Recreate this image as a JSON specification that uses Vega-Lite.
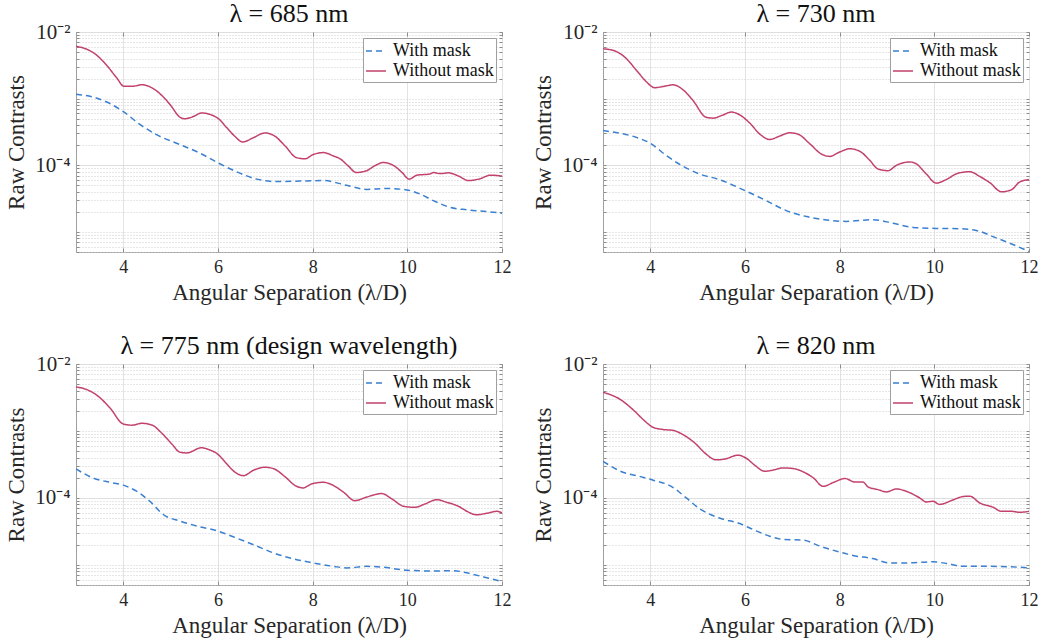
{
  "$schema": "https://vega.github.io/schema/vega-lite/v6.json",
  "padding": {"left": 5, "top": 0, "right": 5, "bottom": 5},
  "background": "white",
  "datasets": {
    "d": [
      {"p":"685","s":"Without mask","x":3.0,"c":6.09e-3},{"p":"685","s":"Without mask","x":3.23,"c":5.5e-3},{"p":"685","s":"Without mask","x":3.44,"c":4.47e-3},{"p":"685","s":"Without mask","x":3.65,"c":3.15e-3},{"p":"685","s":"Without mask","x":3.86,"c":2.05e-3},{"p":"685","s":"Without mask","x":4.01,"c":1.54e-3},{"p":"685","s":"Without mask","x":4.21,"c":1.54e-3},{"p":"685","s":"Without mask","x":4.39,"c":1.62e-3},{"p":"685","s":"Without mask","x":4.6,"c":1.46e-3},{"p":"685","s":"Without mask","x":4.85,"c":1.05e-3},{"p":"685","s":"Without mask","x":4.99,"c":8.1e-4},{"p":"685","s":"Without mask","x":5.2,"c":5.25e-4},{"p":"685","s":"Without mask","x":5.3,"c":5.0e-4},{"p":"685","s":"Without mask","x":5.48,"c":5.4e-4},{"p":"685","s":"Without mask","x":5.65,"c":6.1e-4},{"p":"685","s":"Without mask","x":5.83,"c":5.8e-4},{"p":"685","s":"Without mask","x":6.01,"c":5.0e-4},{"p":"685","s":"Without mask","x":6.18,"c":3.7e-4},{"p":"685","s":"Without mask","x":6.36,"c":2.7e-4},{"p":"685","s":"Without mask","x":6.52,"c":2.24e-4},{"p":"685","s":"Without mask","x":6.75,"c":2.6e-4},{"p":"685","s":"Without mask","x":6.99,"c":3.06e-4},{"p":"685","s":"Without mask","x":7.2,"c":2.74e-4},{"p":"685","s":"Without mask","x":7.42,"c":1.94e-4},{"p":"685","s":"Without mask","x":7.66,"c":1.3e-4},{"p":"685","s":"Without mask","x":7.84,"c":1.25e-4},{"p":"685","s":"Without mask","x":8.01,"c":1.45e-4},{"p":"685","s":"Without mask","x":8.23,"c":1.55e-4},{"p":"685","s":"Without mask","x":8.44,"c":1.38e-4},{"p":"685","s":"Without mask","x":8.58,"c":1.25e-4},{"p":"685","s":"Without mask","x":8.75,"c":9.8e-5},{"p":"685","s":"Without mask","x":8.92,"c":7.8e-5},{"p":"685","s":"Without mask","x":9.14,"c":8.3e-5},{"p":"685","s":"Without mask","x":9.32,"c":9.9e-5},{"p":"685","s":"Without mask","x":9.49,"c":1.1e-4},{"p":"685","s":"Without mask","x":9.74,"c":9.6e-5},{"p":"685","s":"Without mask","x":9.88,"c":7.9e-5},{"p":"685","s":"Without mask","x":10.04,"c":6.2e-5},{"p":"685","s":"Without mask","x":10.2,"c":7.1e-5},{"p":"685","s":"Without mask","x":10.48,"c":7.4e-5},{"p":"685","s":"Without mask","x":10.55,"c":7.8e-5},{"p":"685","s":"Without mask","x":10.69,"c":7.5e-5},{"p":"685","s":"Without mask","x":10.87,"c":7.7e-5},{"p":"685","s":"Without mask","x":11.08,"c":6.9e-5},{"p":"685","s":"Without mask","x":11.29,"c":5.9e-5},{"p":"685","s":"Without mask","x":11.54,"c":6.3e-5},{"p":"685","s":"Without mask","x":11.75,"c":7.1e-5},{"p":"685","s":"Without mask","x":12.0,"c":6.9e-5},
      {"p":"685","s":"With mask","x":3.0,"c":1.16e-3},{"p":"685","s":"With mask","x":3.37,"c":1.05e-3},{"p":"685","s":"With mask","x":3.65,"c":8.9e-4},{"p":"685","s":"With mask","x":4.0,"c":6.4e-4},{"p":"685","s":"With mask","x":4.35,"c":4.1e-4},{"p":"685","s":"With mask","x":4.7,"c":2.88e-4},{"p":"685","s":"With mask","x":5.2,"c":2.04e-4},{"p":"685","s":"With mask","x":5.62,"c":1.52e-4},{"p":"685","s":"With mask","x":6.01,"c":1.08e-4},{"p":"685","s":"With mask","x":6.39,"c":8.0e-5},{"p":"685","s":"With mask","x":6.82,"c":6.2e-5},{"p":"685","s":"With mask","x":7.24,"c":5.7e-5},{"p":"685","s":"With mask","x":7.73,"c":5.8e-5},{"p":"685","s":"With mask","x":8.23,"c":5.9e-5},{"p":"685","s":"With mask","x":8.72,"c":5.0e-5},{"p":"685","s":"With mask","x":9.14,"c":4.35e-5},{"p":"685","s":"With mask","x":9.56,"c":4.5e-5},{"p":"685","s":"With mask","x":9.99,"c":4.26e-5},{"p":"685","s":"With mask","x":10.27,"c":3.7e-5},{"p":"685","s":"With mask","x":10.55,"c":2.95e-5},{"p":"685","s":"With mask","x":10.9,"c":2.34e-5},{"p":"685","s":"With mask","x":11.25,"c":2.15e-5},{"p":"685","s":"With mask","x":11.61,"c":2.04e-5},{"p":"685","s":"With mask","x":12.0,"c":1.91e-5},
      {"p":"730","s":"Without mask","x":3.0,"c":5.6e-3},{"p":"730","s":"Without mask","x":3.25,"c":5.2e-3},{"p":"730","s":"Without mask","x":3.46,"c":4.2e-3},{"p":"730","s":"Without mask","x":3.7,"c":2.7e-3},{"p":"730","s":"Without mask","x":3.92,"c":1.78e-3},{"p":"730","s":"Without mask","x":4.09,"c":1.46e-3},{"p":"730","s":"Without mask","x":4.27,"c":1.52e-3},{"p":"730","s":"Without mask","x":4.48,"c":1.61e-3},{"p":"730","s":"Without mask","x":4.69,"c":1.36e-3},{"p":"730","s":"Without mask","x":4.9,"c":9.4e-4},{"p":"730","s":"Without mask","x":5.18,"c":5.25e-4},{"p":"730","s":"Without mask","x":5.32,"c":5.1e-4},{"p":"730","s":"Without mask","x":5.54,"c":5.7e-4},{"p":"730","s":"Without mask","x":5.71,"c":6.3e-4},{"p":"730","s":"Without mask","x":5.89,"c":5.7e-4},{"p":"730","s":"Without mask","x":6.1,"c":4.3e-4},{"p":"730","s":"Without mask","x":6.31,"c":2.95e-4},{"p":"730","s":"Without mask","x":6.52,"c":2.44e-4},{"p":"730","s":"Without mask","x":6.73,"c":2.74e-4},{"p":"730","s":"Without mask","x":6.94,"c":3.07e-4},{"p":"730","s":"Without mask","x":7.12,"c":2.93e-4},{"p":"730","s":"Without mask","x":7.37,"c":2.1e-4},{"p":"730","s":"Without mask","x":7.61,"c":1.48e-4},{"p":"730","s":"Without mask","x":7.79,"c":1.36e-4},{"p":"730","s":"Without mask","x":8.0,"c":1.58e-4},{"p":"730","s":"Without mask","x":8.21,"c":1.77e-4},{"p":"730","s":"Without mask","x":8.42,"c":1.63e-4},{"p":"730","s":"Without mask","x":8.63,"c":1.2e-4},{"p":"730","s":"Without mask","x":8.81,"c":8.8e-5},{"p":"730","s":"Without mask","x":9.02,"c":8.3e-5},{"p":"730","s":"Without mask","x":9.2,"c":1.0e-4},{"p":"730","s":"Without mask","x":9.48,"c":1.12e-4},{"p":"730","s":"Without mask","x":9.62,"c":1.05e-4},{"p":"730","s":"Without mask","x":9.83,"c":7.4e-5},{"p":"730","s":"Without mask","x":10.04,"c":5.4e-5},{"p":"730","s":"Without mask","x":10.25,"c":6.1e-5},{"p":"730","s":"Without mask","x":10.5,"c":7.6e-5},{"p":"730","s":"Without mask","x":10.75,"c":8.0e-5},{"p":"730","s":"Without mask","x":10.96,"c":6.8e-5},{"p":"730","s":"Without mask","x":11.17,"c":5.5e-5},{"p":"730","s":"Without mask","x":11.42,"c":4.0e-5},{"p":"730","s":"Without mask","x":11.63,"c":4.3e-5},{"p":"730","s":"Without mask","x":11.8,"c":5.6e-5},{"p":"730","s":"Without mask","x":12.0,"c":6.1e-5},
      {"p":"730","s":"With mask","x":3.0,"c":3.32e-4},{"p":"730","s":"With mask","x":3.35,"c":3.03e-4},{"p":"730","s":"With mask","x":3.7,"c":2.63e-4},{"p":"730","s":"With mask","x":4.0,"c":2.14e-4},{"p":"730","s":"With mask","x":4.34,"c":1.4e-4},{"p":"730","s":"With mask","x":4.69,"c":9.7e-5},{"p":"730","s":"With mask","x":5.04,"c":7.4e-5},{"p":"730","s":"With mask","x":5.46,"c":6.1e-5},{"p":"730","s":"With mask","x":6.0,"c":4.17e-5},{"p":"730","s":"With mask","x":6.45,"c":2.95e-5},{"p":"730","s":"With mask","x":6.87,"c":2.09e-5},{"p":"730","s":"With mask","x":7.3,"c":1.7e-5},{"p":"730","s":"With mask","x":7.72,"c":1.51e-5},{"p":"730","s":"With mask","x":8.14,"c":1.44e-5},{"p":"730","s":"With mask","x":8.7,"c":1.53e-5},{"p":"730","s":"With mask","x":9.13,"c":1.35e-5},{"p":"730","s":"With mask","x":9.55,"c":1.17e-5},{"p":"730","s":"With mask","x":10.04,"c":1.13e-5},{"p":"730","s":"With mask","x":10.54,"c":1.12e-5},{"p":"730","s":"With mask","x":10.96,"c":1.02e-5},{"p":"730","s":"With mask","x":11.24,"c":8.5e-6},{"p":"730","s":"With mask","x":11.59,"c":6.8e-6},{"p":"730","s":"With mask","x":12.0,"c":5.1e-6},
      {"p":"775","s":"Without mask","x":3.0,"c":4.54e-3},{"p":"775","s":"Without mask","x":3.23,"c":4.14e-3},{"p":"775","s":"Without mask","x":3.47,"c":3.29e-3},{"p":"775","s":"Without mask","x":3.72,"c":2.2e-3},{"p":"775","s":"Without mask","x":4.0,"c":1.27e-3},{"p":"775","s":"Without mask","x":4.18,"c":1.22e-3},{"p":"775","s":"Without mask","x":4.39,"c":1.3e-3},{"p":"775","s":"Without mask","x":4.6,"c":1.23e-3},{"p":"775","s":"Without mask","x":4.81,"c":9.3e-4},{"p":"775","s":"Without mask","x":5.02,"c":6.45e-4},{"p":"775","s":"Without mask","x":5.2,"c":4.8e-4},{"p":"775","s":"Without mask","x":5.34,"c":4.7e-4},{"p":"775","s":"Without mask","x":5.65,"c":5.6e-4},{"p":"775","s":"Without mask","x":5.83,"c":5.2e-4},{"p":"775","s":"Without mask","x":6.01,"c":4.4e-4},{"p":"775","s":"Without mask","x":6.18,"c":3.25e-4},{"p":"775","s":"Without mask","x":6.36,"c":2.42e-4},{"p":"775","s":"Without mask","x":6.54,"c":2.15e-4},{"p":"775","s":"Without mask","x":6.75,"c":2.59e-4},{"p":"775","s":"Without mask","x":6.99,"c":2.87e-4},{"p":"775","s":"Without mask","x":7.17,"c":2.74e-4},{"p":"775","s":"Without mask","x":7.42,"c":2.06e-4},{"p":"775","s":"Without mask","x":7.63,"c":1.53e-4},{"p":"775","s":"Without mask","x":7.8,"c":1.41e-4},{"p":"775","s":"Without mask","x":7.98,"c":1.62e-4},{"p":"775","s":"Without mask","x":8.23,"c":1.71e-4},{"p":"775","s":"Without mask","x":8.44,"c":1.53e-4},{"p":"775","s":"Without mask","x":8.65,"c":1.22e-4},{"p":"775","s":"Without mask","x":8.89,"c":9.1e-5},{"p":"775","s":"Without mask","x":9.14,"c":1.03e-4},{"p":"775","s":"Without mask","x":9.46,"c":1.16e-4},{"p":"775","s":"Without mask","x":9.67,"c":9.7e-5},{"p":"775","s":"Without mask","x":9.92,"c":7.5e-5},{"p":"775","s":"Without mask","x":10.16,"c":7.25e-5},{"p":"775","s":"Without mask","x":10.37,"c":8.1e-5},{"p":"775","s":"Without mask","x":10.62,"c":9.4e-5},{"p":"775","s":"Without mask","x":10.83,"c":8.6e-5},{"p":"775","s":"Without mask","x":11.08,"c":7.5e-5},{"p":"775","s":"Without mask","x":11.26,"c":6.3e-5},{"p":"775","s":"Without mask","x":11.46,"c":5.6e-5},{"p":"775","s":"Without mask","x":11.68,"c":5.9e-5},{"p":"775","s":"Without mask","x":11.89,"c":6.3e-5},{"p":"775","s":"Without mask","x":12.0,"c":6.0e-5},
      {"p":"775","s":"With mask","x":3.0,"c":2.71e-4},{"p":"775","s":"With mask","x":3.37,"c":1.97e-4},{"p":"775","s":"With mask","x":3.72,"c":1.71e-4},{"p":"775","s":"With mask","x":4.0,"c":1.55e-4},{"p":"775","s":"With mask","x":4.28,"c":1.26e-4},{"p":"775","s":"With mask","x":4.56,"c":8.9e-5},{"p":"775","s":"With mask","x":4.85,"c":5.6e-5},{"p":"775","s":"With mask","x":5.2,"c":4.5e-5},{"p":"775","s":"With mask","x":5.62,"c":3.7e-5},{"p":"775","s":"With mask","x":6.01,"c":3.18e-5},{"p":"775","s":"With mask","x":6.32,"c":2.63e-5},{"p":"775","s":"With mask","x":6.75,"c":2.0e-5},{"p":"775","s":"With mask","x":7.17,"c":1.51e-5},{"p":"775","s":"With mask","x":7.59,"c":1.23e-5},{"p":"775","s":"With mask","x":8.01,"c":1.07e-5},{"p":"775","s":"With mask","x":8.44,"c":9.5e-6},{"p":"775","s":"With mask","x":8.72,"c":9.0e-6},{"p":"775","s":"With mask","x":9.14,"c":9.5e-6},{"p":"775","s":"With mask","x":9.49,"c":9.2e-6},{"p":"775","s":"With mask","x":9.99,"c":8.3e-6},{"p":"775","s":"With mask","x":10.55,"c":8.1e-6},{"p":"775","s":"With mask","x":10.97,"c":8.2e-6},{"p":"775","s":"With mask","x":11.25,"c":7.6e-6},{"p":"775","s":"With mask","x":11.61,"c":6.6e-6},{"p":"775","s":"With mask","x":12.0,"c":5.6e-6},
      {"p":"820","s":"Without mask","x":3.0,"c":3.78e-3},{"p":"820","s":"Without mask","x":3.35,"c":3.0e-3},{"p":"820","s":"Without mask","x":3.67,"c":1.97e-3},{"p":"820","s":"Without mask","x":3.85,"c":1.48e-3},{"p":"820","s":"Without mask","x":4.06,"c":1.13e-3},{"p":"820","s":"Without mask","x":4.27,"c":1.05e-3},{"p":"820","s":"Without mask","x":4.48,"c":1.02e-3},{"p":"820","s":"Without mask","x":4.69,"c":8.8e-4},{"p":"820","s":"Without mask","x":4.94,"c":6.6e-4},{"p":"820","s":"Without mask","x":5.15,"c":4.7e-4},{"p":"820","s":"Without mask","x":5.39,"c":3.7e-4},{"p":"820","s":"Without mask","x":5.57,"c":3.8e-4},{"p":"820","s":"Without mask","x":5.85,"c":4.34e-4},{"p":"820","s":"Without mask","x":6.03,"c":3.9e-4},{"p":"820","s":"Without mask","x":6.2,"c":3.1e-4},{"p":"820","s":"Without mask","x":6.42,"c":2.5e-4},{"p":"820","s":"Without mask","x":6.59,"c":2.6e-4},{"p":"820","s":"Without mask","x":6.8,"c":2.8e-4},{"p":"820","s":"Without mask","x":7.01,"c":2.75e-4},{"p":"820","s":"Without mask","x":7.23,"c":2.45e-4},{"p":"820","s":"Without mask","x":7.44,"c":2.0e-4},{"p":"820","s":"Without mask","x":7.65,"c":1.49e-4},{"p":"820","s":"Without mask","x":7.89,"c":1.73e-4},{"p":"820","s":"Without mask","x":8.11,"c":1.95e-4},{"p":"820","s":"Without mask","x":8.32,"c":1.73e-4},{"p":"820","s":"Without mask","x":8.49,"c":1.73e-4},{"p":"820","s":"Without mask","x":8.6,"c":1.46e-4},{"p":"820","s":"Without mask","x":8.81,"c":1.33e-4},{"p":"820","s":"Without mask","x":8.99,"c":1.23e-4},{"p":"820","s":"Without mask","x":9.2,"c":1.36e-4},{"p":"820","s":"Without mask","x":9.44,"c":1.23e-4},{"p":"820","s":"Without mask","x":9.69,"c":1.0e-4},{"p":"820","s":"Without mask","x":9.83,"c":8.7e-5},{"p":"820","s":"Without mask","x":9.97,"c":8.9e-5},{"p":"820","s":"Without mask","x":10.11,"c":8.0e-5},{"p":"820","s":"Without mask","x":10.39,"c":9.3e-5},{"p":"820","s":"Without mask","x":10.61,"c":1.05e-4},{"p":"820","s":"Without mask","x":10.75,"c":1.06e-4},{"p":"820","s":"Without mask","x":10.96,"c":8.4e-5},{"p":"820","s":"Without mask","x":11.24,"c":7.25e-5},{"p":"820","s":"Without mask","x":11.42,"c":6.3e-5},{"p":"820","s":"Without mask","x":11.63,"c":6.3e-5},{"p":"820","s":"Without mask","x":11.8,"c":6.1e-5},{"p":"820","s":"Without mask","x":12.0,"c":6.3e-5},
      {"p":"820","s":"With mask","x":3.0,"c":3.52e-4},{"p":"820","s":"With mask","x":3.42,"c":2.42e-4},{"p":"820","s":"With mask","x":3.77,"c":2.1e-4},{"p":"820","s":"With mask","x":4.06,"c":1.84e-4},{"p":"820","s":"With mask","x":4.44,"c":1.49e-4},{"p":"820","s":"With mask","x":4.76,"c":1.0e-4},{"p":"820","s":"With mask","x":5.04,"c":6.9e-5},{"p":"820","s":"With mask","x":5.46,"c":5.0e-5},{"p":"820","s":"With mask","x":5.89,"c":4.14e-5},{"p":"820","s":"With mask","x":6.17,"c":3.37e-5},{"p":"820","s":"With mask","x":6.52,"c":2.68e-5},{"p":"820","s":"With mask","x":6.8,"c":2.4e-5},{"p":"820","s":"With mask","x":7.23,"c":2.34e-5},{"p":"820","s":"With mask","x":7.58,"c":1.91e-5},{"p":"820","s":"With mask","x":8.0,"c":1.55e-5},{"p":"820","s":"With mask","x":8.28,"c":1.38e-5},{"p":"820","s":"With mask","x":8.7,"c":1.24e-5},{"p":"820","s":"With mask","x":9.06,"c":1.07e-5},{"p":"820","s":"With mask","x":9.41,"c":1.07e-5},{"p":"820","s":"With mask","x":9.97,"c":1.11e-5},{"p":"820","s":"With mask","x":10.25,"c":1.05e-5},{"p":"820","s":"With mask","x":10.61,"c":9.5e-6},{"p":"820","s":"With mask","x":11.1,"c":9.5e-6},{"p":"820","s":"With mask","x":11.52,"c":9.4e-6},{"p":"820","s":"With mask","x":12.0,"c":9.0e-6}
    ]
  },
  "vconcat": [
    {
      "hconcat": [
        {
          "width": 426, "height": 220,
          "title": "λ = 685 nm",
          "data": {"name": "d"},
          "transform": [{"filter": "datum.p == '685'"}],
          "layer": [
            {
              "mark": {"type": "line", "strokeWidth": 1.5, "clip": true, "interpolate": "monotone"},
              "encoding": {
                "x": {"field": "x", "type": "quantitative", "scale": {"domain": [3, 12], "nice": false, "zero": false}, "axis": {"values": [4, 6, 8, 10, 12], "title": "Angular Separation (λ/D)"}},
                "y": {"field": "c", "type": "quantitative", "scale": {"type": "log", "domain": [0.000005, 0.01], "nice": false}, "axis": {"title": "Raw Contrasts"}},
                "color": {"field": "s", "type": "nominal", "scale": {"domain": ["With mask", "Without mask"], "range": ["#3a7fd0", "#c2426b"]}, "legend": {"title": null}},
                "strokeDash": {"field": "s", "type": "nominal", "scale": {"domain": ["With mask", "Without mask"], "range": [[6, 4], [1, 0]]}, "legend": {"title": null}}
              }
            },
            {
              "mark": {"type": "line", "opacity": 0},
              "encoding": {
                "x": {"field": "x", "type": "quantitative", "axis": {"orient": "top", "values": [4, 6, 8, 10, 12], "labels": false, "title": null, "grid": false}},
                "y": {"field": "c", "type": "quantitative", "axis": {"orient": "right", "labels": false, "title": null, "grid": false}},
                "detail": {"field": "s"}
              }
            }
          ],
          "resolve": {"axis": {"x": "independent", "y": "independent"}}
        },
        {
          "width": 426, "height": 220,
          "title": "λ = 730 nm",
          "data": {"name": "d"},
          "transform": [{"filter": "datum.p == '730'"}],
          "layer": [
            {
              "mark": {"type": "line", "strokeWidth": 1.5, "clip": true, "interpolate": "monotone"},
              "encoding": {
                "x": {"field": "x", "type": "quantitative", "scale": {"domain": [3, 12], "nice": false, "zero": false}, "axis": {"values": [4, 6, 8, 10, 12], "title": "Angular Separation (λ/D)"}},
                "y": {"field": "c", "type": "quantitative", "scale": {"type": "log", "domain": [0.000005, 0.01], "nice": false}, "axis": {"title": "Raw Contrasts"}},
                "color": {"field": "s", "type": "nominal", "scale": {"domain": ["With mask", "Without mask"], "range": ["#3a7fd0", "#c2426b"]}, "legend": {"title": null}},
                "strokeDash": {"field": "s", "type": "nominal", "scale": {"domain": ["With mask", "Without mask"], "range": [[6, 4], [1, 0]]}, "legend": {"title": null}}
              }
            },
            {
              "mark": {"type": "line", "opacity": 0},
              "encoding": {
                "x": {"field": "x", "type": "quantitative", "axis": {"orient": "top", "values": [4, 6, 8, 10, 12], "labels": false, "title": null, "grid": false}},
                "y": {"field": "c", "type": "quantitative", "axis": {"orient": "right", "labels": false, "title": null, "grid": false}},
                "detail": {"field": "s"}
              }
            }
          ],
          "resolve": {"axis": {"x": "independent", "y": "independent"}}
        }
      ],
      "spacing": 101,
      "bounds": "flush",
      "resolve": {"scale": {"color": "independent", "strokeDash": "independent"}, "legend": {"color": "independent", "strokeDash": "independent"}}
    },
    {
      "hconcat": [
        {
          "width": 426, "height": 221,
          "title": "λ = 775 nm (design wavelength)",
          "data": {"name": "d"},
          "transform": [{"filter": "datum.p == '775'"}],
          "layer": [
            {
              "mark": {"type": "line", "strokeWidth": 1.5, "clip": true, "interpolate": "monotone"},
              "encoding": {
                "x": {"field": "x", "type": "quantitative", "scale": {"domain": [3, 12], "nice": false, "zero": false}, "axis": {"values": [4, 6, 8, 10, 12], "title": "Angular Separation (λ/D)"}},
                "y": {"field": "c", "type": "quantitative", "scale": {"type": "log", "domain": [0.000005, 0.01], "nice": false}, "axis": {"title": "Raw Contrasts"}},
                "color": {"field": "s", "type": "nominal", "scale": {"domain": ["With mask", "Without mask"], "range": ["#3a7fd0", "#c2426b"]}, "legend": {"title": null}},
                "strokeDash": {"field": "s", "type": "nominal", "scale": {"domain": ["With mask", "Without mask"], "range": [[6, 4], [1, 0]]}, "legend": {"title": null}}
              }
            },
            {
              "mark": {"type": "line", "opacity": 0},
              "encoding": {
                "x": {"field": "x", "type": "quantitative", "axis": {"orient": "top", "values": [4, 6, 8, 10, 12], "labels": false, "title": null, "grid": false}},
                "y": {"field": "c", "type": "quantitative", "axis": {"orient": "right", "labels": false, "title": null, "grid": false}},
                "detail": {"field": "s"}
              }
            }
          ],
          "resolve": {"axis": {"x": "independent", "y": "independent"}}
        },
        {
          "width": 426, "height": 221,
          "title": "λ = 820 nm",
          "data": {"name": "d"},
          "transform": [{"filter": "datum.p == '820'"}],
          "layer": [
            {
              "mark": {"type": "line", "strokeWidth": 1.5, "clip": true, "interpolate": "monotone"},
              "encoding": {
                "x": {"field": "x", "type": "quantitative", "scale": {"domain": [3, 12], "nice": false, "zero": false}, "axis": {"values": [4, 6, 8, 10, 12], "title": "Angular Separation (λ/D)"}},
                "y": {"field": "c", "type": "quantitative", "scale": {"type": "log", "domain": [0.000005, 0.01], "nice": false}, "axis": {"title": "Raw Contrasts"}},
                "color": {"field": "s", "type": "nominal", "scale": {"domain": ["With mask", "Without mask"], "range": ["#3a7fd0", "#c2426b"]}, "legend": {"title": null}},
                "strokeDash": {"field": "s", "type": "nominal", "scale": {"domain": ["With mask", "Without mask"], "range": [[6, 4], [1, 0]]}, "legend": {"title": null}}
              }
            },
            {
              "mark": {"type": "line", "opacity": 0},
              "encoding": {
                "x": {"field": "x", "type": "quantitative", "axis": {"orient": "top", "values": [4, 6, 8, 10, 12], "labels": false, "title": null, "grid": false}},
                "y": {"field": "c", "type": "quantitative", "axis": {"orient": "right", "labels": false, "title": null, "grid": false}},
                "detail": {"field": "s"}
              }
            }
          ],
          "resolve": {"axis": {"x": "independent", "y": "independent"}}
        }
      ],
      "spacing": 101,
      "bounds": "flush",
      "resolve": {"scale": {"color": "independent", "strokeDash": "independent"}, "legend": {"color": "independent", "strokeDash": "independent"}}
    }
  ],
  "spacing": 332,
  "bounds": "flush",
  "resolve": {"scale": {"color": "independent", "strokeDash": "independent"}, "legend": {"color": "independent", "strokeDash": "independent"}},
  "config": {
    "font": "Liberation Serif",
    "view": {"stroke": "#a0a0a0", "strokeWidth": 1},
    "title": {"font": "Liberation Serif", "fontSize": 26, "fontWeight": "normal", "color": "#111111", "offset": -6, "frame": "group", "anchor": "middle"},
    "axis": {
      "labelFont": "Liberation Serif", "titleFont": "Liberation Serif",
      "labelFontSize": 18, "titleFontSize": 23, "titleFontWeight": "normal",
      "labelColor": "#262626", "titleColor": "#262626",
      "domain": false, "ticks": true, "tickSize": -4, "tickColor": "#8c8c8c", "tickWidth": 1,
      "grid": true, "gridColor": "#e3e3e3", "gridWidth": 1
    },
    "axisX": {"labelPadding": 10, "titlePadding": 5, "labelFlush": false},
    "axisY": {
      "values": [0.000005, 0.000006, 0.000007, 0.000008, 0.000009, 0.00001, 0.00002, 0.00003, 0.00004, 0.00005, 0.00006, 0.00007, 0.00008, 0.00009, 0.0001, 0.0002, 0.0003, 0.0004, 0.0005, 0.0006, 0.0007, 0.0008, 0.0009, 0.001, 0.002, 0.003, 0.004, 0.005, 0.006, 0.007, 0.008, 0.009, 0.01],
      "labelExpr": "datum.value == 0.01 ? '10⁻²' : (datum.value == 0.0001 ? '10⁻⁴' : '')",
      "labelOverlap": false, "labelFontSize": 21,
      "labelPadding": 9, "titlePadding": 6, "tickSize": -3,
      "gridDash": {"condition": {"test": "datum.value == 0.01 || datum.value == 0.0001", "value": []}, "value": [1, 2]},
      "gridColor": {"condition": {"test": "datum.value == 0.01 || datum.value == 0.0001", "value": "#dedede"}, "value": "#cfcfcf"}
    },
    "legend": {
      "orient": "top-right", "offset": 6,
      "labelFont": "Liberation Serif", "labelFontSize": 18, "labelColor": "#111111",
      "symbolType": "stroke", "symbolSize": 400, "symbolStrokeWidth": 1.5,
      "strokeColor": "#a0a0a0", "fillColor": "white", "padding": 2, "rowPadding": 0, "labelOffset": 6
    }
  }
}
